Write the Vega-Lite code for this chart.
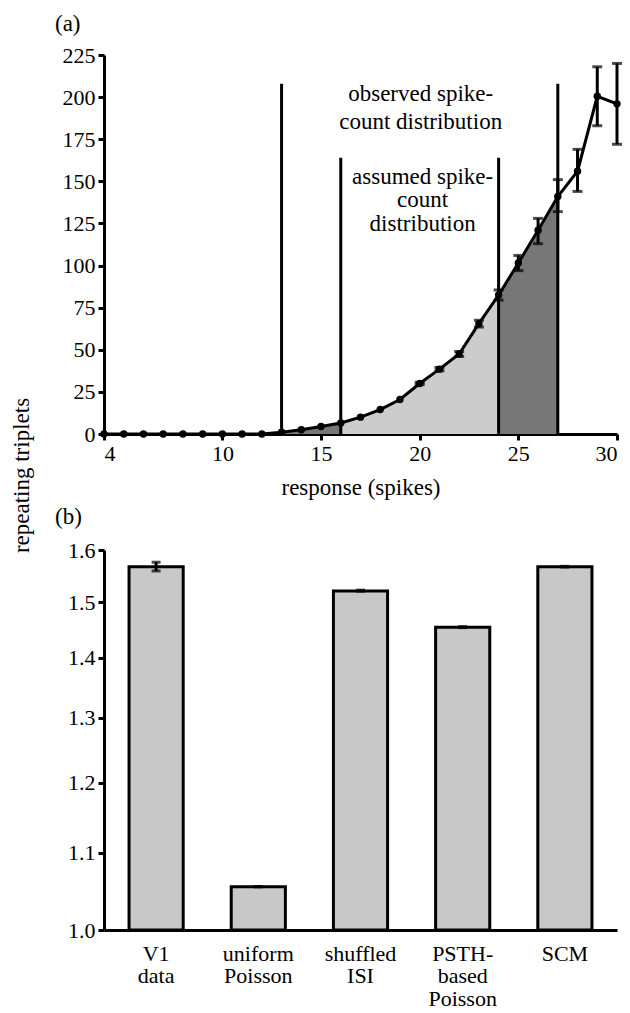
{
  "$schema": "https://vega.github.io/schema/vega-lite/v6.json",
  "padding": {"left": 10, "top": 13, "right": 5, "bottom": 0},
  "bounds": "flush",
  "spacing": 116,
  "config": {
    "font": "Liberation Serif, Times New Roman, Times, serif",
    "view": {"stroke": null},
    "axis": {"domainColor": "black", "domainWidth": 3, "tickColor": "black", "tickWidth": 3, "tickSize": 6, "labelFont": "Liberation Serif, Times New Roman, Times, serif", "labelFontSize": 22, "labelColor": "black", "titleFont": "Liberation Serif, Times New Roman, Times, serif", "titleFontSize": 23, "titleFontWeight": "normal", "titleColor": "black", "grid": false, "labelPadding": 3},
    "title": {"font": "Liberation Serif, Times New Roman, Times, serif", "fontSize": 23, "fontWeight": "normal", "anchor": "start", "frame": "group", "color": "black"},
    "text": {"font": "Liberation Serif, Times New Roman, Times, serif"}
  },
  "datasets": {
    "curve": [
      {"x": 4, "y": 0, "lo": 0, "hi": 0},
      {"x": 5, "y": 0, "lo": 0, "hi": 0},
      {"x": 6, "y": 0, "lo": 0, "hi": 0},
      {"x": 7, "y": 0, "lo": 0, "hi": 0},
      {"x": 8, "y": 0, "lo": 0, "hi": 0},
      {"x": 9, "y": 0, "lo": 0, "hi": 0},
      {"x": 10, "y": 0, "lo": 0, "hi": 0},
      {"x": 11, "y": 0, "lo": 0, "hi": 0},
      {"x": 12, "y": 0, "lo": 0, "hi": 0},
      {"x": 13, "y": 1, "lo": 1, "hi": 1},
      {"x": 14, "y": 2.5, "lo": 2.5, "hi": 2.5},
      {"x": 15, "y": 4.5, "lo": 4.5, "hi": 4.5},
      {"x": 16, "y": 6.5, "lo": 6.5, "hi": 6.5},
      {"x": 17, "y": 10, "lo": 10, "hi": 10},
      {"x": 18, "y": 14.5, "lo": 14.5, "hi": 14.5},
      {"x": 19, "y": 20.5, "lo": 20.5, "hi": 20.5},
      {"x": 20, "y": 30, "lo": 29.3, "hi": 30.7},
      {"x": 21, "y": 38.5, "lo": 37.5, "hi": 39.5},
      {"x": 22, "y": 47.5, "lo": 46, "hi": 49},
      {"x": 23, "y": 65.5, "lo": 63.5, "hi": 67.5},
      {"x": 24, "y": 82.5, "lo": 79.5, "hi": 85.5},
      {"x": 25, "y": 101.5, "lo": 97, "hi": 106},
      {"x": 26, "y": 121, "lo": 113, "hi": 128},
      {"x": 27, "y": 141, "lo": 132, "hi": 151},
      {"x": 28, "y": 156, "lo": 144, "hi": 169},
      {"x": 29, "y": 200.5, "lo": 183, "hi": 218},
      {"x": 30, "y": 196, "lo": 172, "hi": 220}
    ],
    "bounds": [
      {"x": 13, "top": 208},
      {"x": 16, "top": 164},
      {"x": 24, "top": 164},
      {"x": 27, "top": 208}
    ],
    "notes": [
      {"x": 20.05, "y": 197.5, "text": "observed spike-"},
      {"x": 20.05, "y": 181, "text": "count distribution"},
      {"x": 20.15, "y": 148.5, "text": "assumed spike-"},
      {"x": 20.15, "y": 134.5, "text": "count"},
      {"x": 20.15, "y": 120.5, "text": "distribution"}
    ],
    "bars": [
      {"cat": "V1|data", "v": 1.567, "lo": 1.559, "hi": 1.576},
      {"cat": "uniform|Poisson", "v": 1.055, "lo": 1.055, "hi": 1.055},
      {"cat": "shuffled|ISI", "v": 1.521, "lo": 1.5205, "hi": 1.5225},
      {"cat": "PSTH-|based|Poisson", "v": 1.454, "lo": 1.4535, "hi": 1.4555},
      {"cat": "SCM", "v": 1.567, "lo": 1.5665, "hi": 1.568}
    ]
  },
  "vconcat": [
    {
      "width": 513,
      "height": 379,
      "title": {"text": "(a)", "dx": -49, "offset": 8},
      "encoding": {
        "x": {"field": "x", "type": "quantitative", "title": "response (spikes)", "scale": {"domain": [4, 30], "nice": false, "zero": false},
          "axis": {"values": [4, 10, 15, 20, 25, 30], "title": "response (spikes)", "titlePadding": 12}}
      },
      "layer": [
        {
          "data": {"name": "curve"},
          "transform": [{"filter": "datum.x >= 13 && datum.x <= 27"}],
          "mark": {"type": "area", "color": "#777777", "opacity": 1},
          "encoding": {
            "y": {"field": "y", "type": "quantitative", "title": "repeating triplets", "scale": {"domain": [0, 225], "nice": false},
              "axis": {"values": [0, 25, 50, 75, 100, 125, 150, 175, 200, 225], "title": "repeating triplets", "titleX": -76, "titleY": 420, "titleAngle": -90, "titleBaseline": "alphabetic", "titleAlign": "center"}},
            "y2": {"datum": 0}
          }
        },
        {
          "data": {"name": "curve"},
          "transform": [{"filter": "datum.x >= 16 && datum.x <= 24"}],
          "mark": {"type": "area", "color": "#cccccc", "opacity": 1},
          "encoding": {
            "y": {"field": "y", "type": "quantitative", "title": "repeating triplets", "scale": {"domain": [0, 225], "nice": false}},
            "y2": {"datum": 0}
          }
        },
        {
          "data": {"name": "bounds"},
          "mark": {"type": "rule", "color": "black", "strokeWidth": 3},
          "encoding": {
            "y": {"field": "top", "type": "quantitative", "title": "repeating triplets", "scale": {"domain": [0, 225], "nice": false}},
            "y2": {"datum": 0}
          }
        },
        {
          "data": {"name": "curve"},
          "mark": {"type": "line", "color": "black", "strokeWidth": 3},
          "encoding": {
            "y": {"field": "y", "type": "quantitative", "title": "repeating triplets", "scale": {"domain": [0, 225], "nice": false}}
          }
        },
        {
          "data": {"name": "curve"},
          "transform": [{"filter": "datum.hi > datum.lo"}],
          "mark": {"type": "errorbar", "ticks": true, "size": 10, "thickness": 3, "color": "black"},
          "encoding": {
            "y": {"field": "lo", "type": "quantitative", "title": "repeating triplets", "scale": {"domain": [0, 225], "nice": false}},
            "y2": {"field": "hi"}
          }
        },
        {
          "data": {"name": "curve"},
          "mark": {"type": "circle", "color": "black", "size": 55, "opacity": 1},
          "encoding": {
            "y": {"field": "y", "type": "quantitative", "title": "repeating triplets", "scale": {"domain": [0, 225], "nice": false}}
          }
        },
        {
          "data": {"name": "notes"},
          "mark": {"type": "text", "align": "center", "baseline": "alphabetic", "fontSize": 23, "color": "black"},
          "encoding": {
            "y": {"field": "y", "type": "quantitative", "title": "repeating triplets", "scale": {"domain": [0, 225], "nice": false}},
            "text": {"field": "text"}
          }
        }
      ]
    },
    {
      "width": 513,
      "height": 380,
      "title": {"text": "(b)", "dx": -49, "offset": 10},
      "data": {"name": "bars"},
      "encoding": {
        "x": {"field": "cat", "type": "nominal", "sort": null, "scale": {"paddingInner": 0.47, "paddingOuter": 0.245},
          "axis": {"title": null, "labelAngle": 0, "ticks": false, "labelPadding": 13, "labelExpr": "split(datum.label, '|')", "labelLineHeight": 22.5, "labelFontSize": 22}}
      },
      "layer": [
        {
          "mark": {"type": "bar", "fill": "#c8c8c8", "stroke": "black", "strokeWidth": 3},
          "encoding": {
            "y": {"field": "v", "type": "quantitative", "title": null, "scale": {"type": "log", "domain": [1, 1.6], "nice": false},
              "axis": {"values": [1, 1.1, 1.2, 1.3, 1.4, 1.5, 1.6], "format": ".1f", "title": null}},
            "y2": {"datum": 1}
          }
        },
        {
          "mark": {"type": "errorbar", "ticks": true, "size": 9, "thickness": 3, "color": "black"},
          "encoding": {
            "y": {"field": "lo", "type": "quantitative", "title": null, "scale": {"type": "log", "domain": [1, 1.6], "nice": false}},
            "y2": {"field": "hi"}
          }
        }
      ]
    }
  ]
}
